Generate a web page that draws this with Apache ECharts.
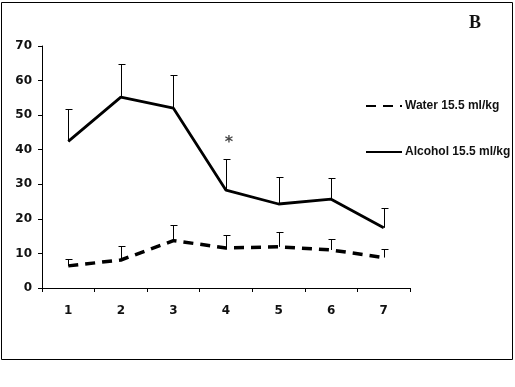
<!DOCTYPE html>
<html><head><meta charset="utf-8">
<script src="https://cdn.jsdelivr.net/npm/echarts@6/dist/echarts.min.js"></script>
<style>html,body{margin:0;padding:0;background:#fff}#c{width:515px;height:387px}</style>
</head><body><div id="c"></div>
<script>
const categories = ['1','2','3','4','5','6','7'];
const yTicks = [0,10,20,30,40,50,60,70];
const waterName = 'Water 15.5 ml/kg';
const alcoholName = 'Alcohol 15.5 ml/kg';
const waterMean = [6.4, 8.1, 13.7, 11.6, 11.9, 11.0, 8.8];
const waterErr  = [2.1, 4.0, 4.6, 3.8, 4.4, 3.1, 2.4];
const alcoholMean = [42.4, 55.2, 52.0, 28.3, 24.3, 25.7, 17.4];
const alcoholErr  = [9.3, 9.5, 9.6, 9.1, 7.9, 6.0, 5.8];
const starIndex = 3, starValue = 42.8;

const chart = echarts.init(document.getElementById('c'), null, {renderer:'canvas'});
function errSeries(mean, err){
  return {
    type:'custom', silent:true, z:1,
    data: mean.map((m,i)=>[i, m, m+err[i]]),
    renderItem(params, api){
      const p0 = api.coord([api.value(0), api.value(1)]);
      const p1 = api.coord([api.value(0), api.value(2)]);
      const x = Math.round(p0[0]) + 0.5;
      return {type:'group', children:[
        {type:'line', shape:{x1:x,y1:p0[1],x2:x,y2:Math.round(p1[1])+0.5}, style:{stroke:'#000',lineWidth:1}},
        {type:'line', shape:{x1:x-3,y1:Math.round(p1[1])+0.5,x2:x+4,y2:Math.round(p1[1])+0.5}, style:{stroke:'#000',lineWidth:1}}
      ]};
    }
  };
}
const labelFont = {fontFamily:'DejaVu Sans', fontWeight:'bold', fontSize:12, color:'#111'};
chart.setOption({
  animation:false,
  backgroundColor:'#fff',
  grid:{left:42, top:46, width:368, height:242, containLabel:false},
  legend:{
    orient:'vertical', left:360, top:95, itemWidth:36, itemHeight:14, itemGap:34,
    data:[waterName, alcoholName],
    itemStyle:{opacity:0, color:'rgba(0,0,0,0)', borderColor:'rgba(0,0,0,0)', borderWidth:0},
    textStyle:{fontFamily:'Liberation Sans', fontWeight:'bold', fontSize:12, color:'#111', padding:[0,0,0,-2]}
  },
  xAxis:{
    type:'category', data:categories, boundaryGap:true,
    axisLine:{lineStyle:{color:'#000', width:1}},
    axisTick:{show:true, length:4, alignWithLabel:false, lineStyle:{color:'#000'}},
    axisLabel:Object.assign({margin:17}, labelFont),
    splitLine:{show:false}
  },
  yAxis:{
    type:'value', min:0, max:70, interval:10,
    axisLine:{show:true, lineStyle:{color:'#000', width:1}},
    axisTick:{show:true, length:4, lineStyle:{color:'#000'}},
    axisLabel:Object.assign({margin:10, formatter:v=>yTicks.includes(v)?String(v):''}, labelFont),
    splitLine:{show:false}
  },
  graphic:[
    {type:'rect', shape:{x:1.5, y:2.5, width:511, height:357}, style:{fill:'none', stroke:'#000', lineWidth:1}, z:-1},
    {type:'text', left:469, top:14, style:{text:'B', font:'bold 18px "Liberation Serif"', fill:'#111'}}
  ],
  series:[
    errSeries(waterMean, waterErr),
    errSeries(alcoholMean, alcoholErr),
    {name:waterName, type:'line', data:waterMean, symbol:'none', z:3,
     lineStyle:{color:'#000', width:3.5, type:[10,7]}, itemStyle:{color:'#000'}},
    {name:alcoholName, type:'line', data:alcoholMean, symbol:'none', z:3,
     lineStyle:{color:'#000', width:2.8}, itemStyle:{color:'#000'}},
    {type:'scatter', data:[[starIndex, starValue]], symbolSize:0, silent:true,
     label:{show:true, formatter:'*', position:'inside', offset:[3,3], fontFamily:'DejaVu Sans', fontWeight:'bold', fontSize:16, color:'#111'}}
  ]
});
</script></body></html>
